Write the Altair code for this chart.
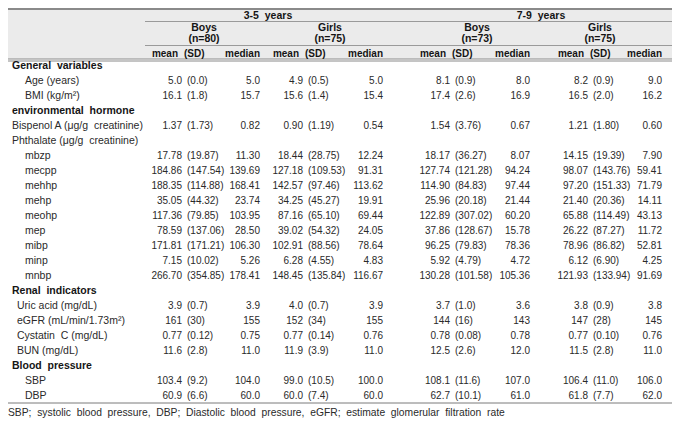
import altair as alt
import pandas as pd

NB = "\u00a0"
# ---------------- data ----------------
row_labels = [
    "General" + NB + " variables", "Age (years)", "BMI (kg/m²)",
    "environmental" + NB + " hormone", "Bispenol A (μg/g" + NB + " creatinine)", "Phthalate (μg/g" + NB + " creatinine)",
    "mbzp", "mecpp", "mehhp", "mehp", "meohp", "mep", "mibp", "minp", "mnbp",
    "Renal" + NB + " indicators", "Uric acid (mg/dL)", "eGFR (mL/min/1.73m²)", "Cystatin" + NB + " C (mg/dL)", "BUN (mg/dL)",
    "Blood" + NB + " pressure", "SBP", "DBP",
]
row_kind = [
    "section", "sub", "sub",
    "section", "plain", "plain",
    "sub", "sub", "sub", "sub", "sub", "sub", "sub", "sub", "sub",
    "section", "renal", "renal", "renal", "renal",
    "section", "sub", "sub",
]

boys35_mean = ["", "5.0", "16.1", "", "1.37", "", "17.78", "184.86", "188.35", "35.05", "117.36", "78.59", "171.81", "7.15", "266.70", "", "3.9", "161", "0.77", "11.6", "", "103.4", "60.9"]
boys35_sd = ["", "(0.0)", "(1.8)", "", "(1.73)", "", "(19.87)", "(147.54)", "(114.88)", "(44.32)", "(79.85)", "(137.06)", "(171.21)", "(10.02)", "(354.85)", "", "(0.7)", "(30)", "(0.12)", "(2.8)", "", "(9.2)", "(6.6)"]
boys35_median = ["", "5.0", "15.7", "", "0.82", "", "11.30", "139.69", "168.41", "23.74", "103.95", "28.50", "106.30", "5.26", "178.41", "", "3.9", "155", "0.75", "11.0", "", "104.0", "60.0"]

girls35_mean = ["", "4.9", "15.6", "", "0.90", "", "18.44", "127.18", "142.57", "34.25", "87.16", "39.02", "102.91", "6.28", "148.45", "", "4.0", "152", "0.77", "11.9", "", "99.0", "60.0"]
girls35_sd = ["", "(0.5)", "(1.4)", "", "(1.19)", "", "(28.75)", "(109.53)", "(97.46)", "(45.27)", "(65.10)", "(54.32)", "(88.56)", "(4.55)", "(135.84)", "", "(0.7)", "(34)", "(0.14)", "(3.9)", "", "(10.5)", "(7.4)"]
girls35_median = ["", "5.0", "15.4", "", "0.54", "", "12.24", "91.31", "113.62", "19.91", "69.44", "24.05", "78.64", "4.83", "116.67", "", "3.9", "155", "0.76", "11.0", "", "100.0", "60.0"]

boys79_mean = ["", "8.1", "17.4", "", "1.54", "", "18.17", "127.74", "114.90", "25.96", "122.89", "37.86", "96.25", "5.92", "130.28", "", "3.7", "144", "0.78", "12.5", "", "108.1", "62.7"]
boys79_sd = ["", "(0.9)", "(2.6)", "", "(3.76)", "", "(36.27)", "(121.28)", "(84.83)", "(20.18)", "(307.02)", "(128.67)", "(79.83)", "(4.79)", "(101.58)", "", "(1.0)", "(16)", "(0.08)", "(2.6)", "", "(11.6)", "(10.1)"]
boys79_median = ["", "8.0", "16.9", "", "0.67", "", "8.07", "94.24", "97.44", "21.44", "60.20", "15.78", "78.36", "4.72", "105.36", "", "3.6", "143", "0.78", "12.0", "", "107.0", "61.0"]

girls79_mean = ["", "8.2", "16.5", "", "1.21", "", "14.15", "98.07", "97.20", "21.40", "65.88", "26.22", "78.96", "6.12", "121.93", "", "3.8", "147", "0.77", "11.5", "", "106.4", "61.8"]
girls79_sd = ["", "(0.9)", "(2.0)", "", "(1.80)", "", "(19.39)", "(143.76)", "(151.33)", "(20.36)", "(114.49)", "(87.27)", "(86.82)", "(6.90)", "(133.94)", "", "(0.9)", "(28)", "(0.10)", "(2.8)", "", "(11.0)", "(7.7)"]
girls79_median = ["", "9.0", "16.2", "", "0.60", "", "7.90", "59.41", "71.79", "14.11", "43.13", "11.72", "52.81", "4.25", "91.69", "", "3.8", "145", "0.76", "11.0", "", "106.0", "62.0"]

age_groups = ["3-5" + NB + " years", "7-9" + NB + " years"]
sex_groups = ["Boys", "Girls", "Boys", "Girls"]
sex_n = ["(n=80)", "(n=75)", "(n=73)", "(n=75)"]
stat_headers = ["mean", "(SD)", "median"]
footnote = ("SBP;  systolic  blood  pressure,  DBP;  Diastolic  blood  pressure,  "
            "eGFR;  estimate  glomerular  filtration  rate").replace("  ", NB + " ")

# ---------------- layout (pixels) ----------------
W, H = 664, 413
SHIFT = 8
FONT = "Liberation Sans"
BASE = 3.6  # baseline offset below the visual centre of a line
col_anchor = [(182, 187, 260), (303, 308, 383), (450, 455, 530), (588, 593, 662)]  # mean right, sd left, median right
sex_center = [204, 330, 477, 600]
age_center = [268, 541]
label_x = {"section": 12, "plain": 12, "sub": 25, "renal": 17}
row_y0, row_step = 57, 15
y_age, y_sex, y_n, y_stat = 7, 19, 30.5, 45
series = [
    (boys35_mean, boys35_sd, boys35_median),
    (girls35_mean, girls35_sd, girls35_median),
    (boys79_mean, boys79_sd, boys79_median),
    (girls79_mean, girls79_sd, girls79_median),
]

recs = []
def add(x, y, text, layer):
    recs.append({"x": max(0, x - SHIFT), "y": y + BASE, "text": text, "layer": layer})

for i, (lab, kind) in enumerate(zip(row_labels, row_kind)):
    y = row_y0 + i * row_step
    add(label_x[kind], y, lab, "lab_b" if kind == "section" else "lab_n")
    for (m, s, md), (mr, sl, mdr) in zip(series, col_anchor):
        if m[i]:
            add(mr, y, m[i], "num_r")
            add(sl, y, s[i], "num_l")
            add(mdr, y, md[i], "num_r")

for txt, cx in zip(age_groups, age_center):
    add(cx, y_age, txt, "hdr_c")
for g, n, cx in zip(sex_groups, sex_n, sex_center):
    add(cx, y_sex, g, "hdr_c")
    add(cx, y_n, n, "hdr_c")
for (mr, sl, mdr) in col_anchor:
    add(mr - 4, y_stat, stat_headers[0], "hdr_r")
    add(sl - 3, y_stat, stat_headers[1], "hdr_l")
    add(mdr, y_stat, stat_headers[2], "hdr_r")
add(3, 404, footnote, "foot")
texts = pd.DataFrame(recs)

rules = pd.DataFrame([
    {"x": 0, "x2": W, "y": 1, "c": "#8a8a8a", "sw": 2},
    {"x": 145 - SHIFT, "x2": W, "y": 13.5, "c": "#9a9a9a", "sw": 1},
    {"x": 145 - SHIFT, "x2": W, "y": 37.5, "c": "#9a9a9a", "sw": 1},
    {"x": 0, "x2": W, "y": 51, "c": "#8a8a8a", "sw": 1},
    {"x": 0, "x2": W, "y": 53, "c": "#8a8a8a", "sw": 1},
    {"x": 0, "x2": W, "y": 395, "c": "#7a7a7a", "sw": 1},
])
bg = pd.DataFrame([{"x": 0, "x2": W, "y": 0, "y2": 51, "c": "#ebebeb"}])

X = alt.X("x:Q", scale=None, axis=None)
Y = alt.Y("y:Q", scale=None, axis=None)

bg_layer = alt.Chart(bg).mark_rect().encode(
    x=X, x2="x2:Q", y=Y, y2="y2:Q", color=alt.Color("c:N", scale=None))
rule_layer = alt.Chart(rules).mark_rule().encode(
    x=X, x2="x2:Q", y=Y, color=alt.Color("c:N", scale=None),
    strokeWidth=alt.StrokeWidth("sw:Q", scale=None))

def tl(layer, align, weight, size, color="#2a2a2a"):
    return alt.Chart(texts).transform_filter(alt.datum.layer == layer).mark_text(
        align=align, baseline="alphabetic", font=FONT, fontSize=size, fontWeight=weight, color=color
    ).encode(x=X, y=Y, text="text:N")

chart = alt.layer(
    bg_layer, rule_layer,
    tl("lab_n", "left", "normal", 10.5),
    tl("lab_b", "left", "bold", 10.5, "#151515"),
    tl("foot", "left", "normal", 10.3),
    tl("num_r", "right", "normal", 10),
    tl("num_l", "left", "normal", 10),
    tl("hdr_c", "center", "bold", 10.5, "#151515"),
    tl("hdr_r", "right", "bold", 10, "#151515"),
    tl("hdr_l", "left", "bold", 10, "#151515"),
).properties(width=W, height=H, padding=0, autosize="none").configure_view(stroke=None)

chart.save("out.html", embed_options={"renderer": "svg", "actions": False})
